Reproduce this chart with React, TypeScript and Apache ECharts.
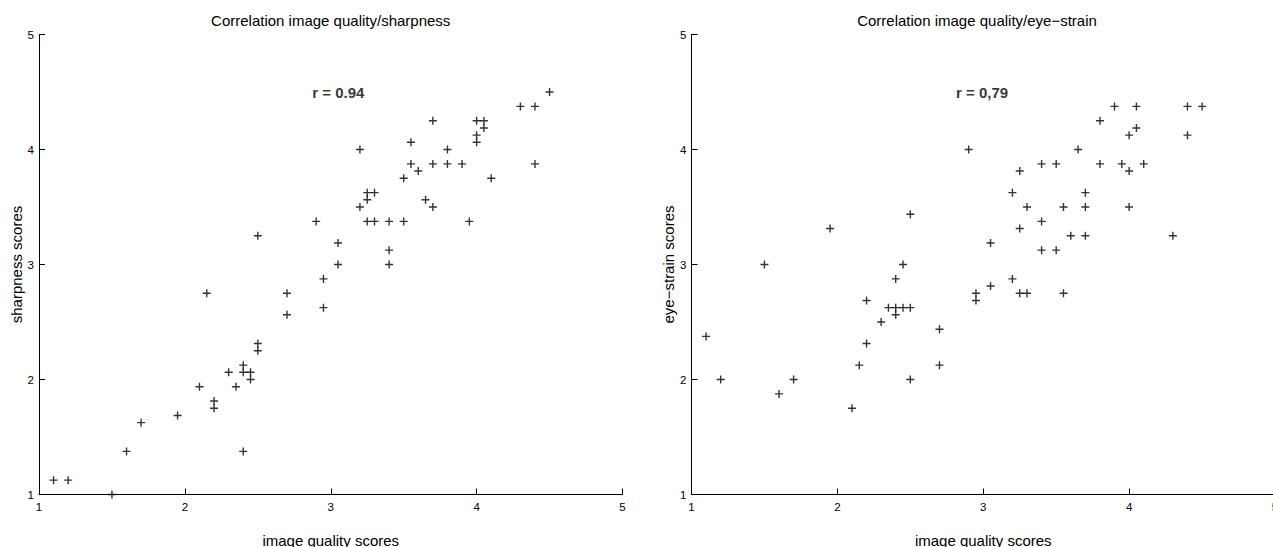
import React, { useEffect, useRef } from "react";
import * as echarts from "echarts";

// ---- data ----
const sharpnessX = [
  1.1, 1.2, 1.5, 1.6, 1.7, 1.95, 2.1, 2.15, 2.2, 2.2, 2.3, 2.35, 2.4, 2.4, 2.4,
  2.45, 2.45, 2.5, 2.5, 2.5, 2.7, 2.7, 2.9, 2.95, 2.95, 3.05, 3.05, 3.2, 3.2,
  3.25, 3.25, 3.25, 3.3, 3.3, 3.4, 3.4, 3.4, 3.5, 3.5, 3.55, 3.55, 3.6, 3.65,
  3.7, 3.7, 3.7, 3.8, 3.8, 3.9, 3.95, 4.0, 4.0, 4.0, 4.05, 4.05, 4.1, 4.3, 4.4,
  4.4, 4.5,
];
const sharpnessY = [
  1.125, 1.125, 1.0, 1.375, 1.625, 1.6875, 1.9375, 2.75, 1.8125, 1.75, 2.0625,
  1.9375, 2.125, 2.0625, 1.375, 2.0625, 2.0, 2.3125, 2.25, 3.25, 2.75, 2.5625,
  3.375, 2.875, 2.625, 3.1875, 3.0, 4.0, 3.5, 3.625, 3.5625, 3.375, 3.625,
  3.375, 3.375, 3.125, 3.0, 3.75, 3.375, 4.0625, 3.875, 3.8125, 3.5625, 4.25,
  3.875, 3.5, 4.0, 3.875, 3.875, 3.375, 4.25, 4.125, 4.0625, 4.25, 4.1875,
  3.75, 4.375, 4.375, 3.875, 4.5,
];
const eyeStrainX = [
  1.1, 1.2, 1.5, 1.6, 1.7, 1.95, 2.1, 2.15, 2.2, 2.2, 2.3, 2.35, 2.4, 2.4, 2.4,
  2.45, 2.45, 2.5, 2.5, 2.5, 2.7, 2.7, 2.9, 2.95, 2.95, 3.05, 3.05, 3.2, 3.2,
  3.25, 3.25, 3.25, 3.3, 3.3, 3.4, 3.4, 3.4, 3.5, 3.5, 3.55, 3.55, 3.6, 3.65,
  3.7, 3.7, 3.7, 3.8, 3.8, 3.9, 3.95, 4.0, 4.0, 4.0, 4.05, 4.05, 4.1, 4.3, 4.4,
  4.4, 4.5,
];
const eyeStrainY = [
  2.375, 2.0, 3.0, 1.875, 2.0, 3.3125, 1.75, 2.125, 2.6875, 2.3125, 2.5, 2.625,
  2.625, 2.875, 2.5625, 3.0, 2.625, 2.625, 3.4375, 2.0, 2.4375, 2.125, 4.0,
  2.75, 2.6875, 3.1875, 2.8125, 3.625, 2.875, 3.8125, 3.3125, 2.75, 3.5, 2.75,
  3.875, 3.375, 3.125, 3.875, 3.125, 3.5, 2.75, 3.25, 4.0, 3.625, 3.5, 3.25,
  4.25, 3.875, 4.375, 3.875, 4.125, 3.8125, 3.5, 4.375, 4.1875, 3.875, 3.25,
  4.375, 4.125, 4.375,
];
const xTicks = [1, 2, 3, 4, 5];
const yTicks = [1, 2, 3, 4, 5];
const titles = [
  "Correlation image quality/sharpness",
  "Correlation image quality/eye\u2212strain",
];
const xNames = ["image quality scores", "image quality scores"];
const yNames = ["sharpness scores", "eye\u2212strain scores"];
const rLabels = ["r = 0.94", "r = 0,79"];
const rX = [2.87, 2.81];
const rY = [4.5, 4.5];

const FONT = '"Liberation Sans", Arial, Helvetica, sans-serif';
const PLUS = "path://M0,3.3H8V4.7H0ZM3.3,0H4.7V8H3.3Z";

function zip(xs: number[], ys: number[]) {
  return xs.map((x, i) => [x, ys[i]]);
}

export default function App() {
  const ref = useRef<HTMLDivElement>(null);
  useEffect(() => {
    if (!ref.current) return;
    const chart = echarts.init(ref.current, undefined, { renderer: "svg" });
    const gridLefts = [39, 691.5];
    const titleCenters = [330.7, 977];
    const yNameGaps = [13, 14];

    const xAxis = [0, 1].map((g) => ({
      type: "value",
      gridIndex: g,
      min: xTicks[0],
      max: xTicks[xTicks.length - 1],
      interval: 1,
      name: xNames[g],
      nameLocation: "middle",
      nameGap: 38,
      nameTextStyle: { fontFamily: FONT, fontSize: 15, color: "#000" },
      axisLine: { show: true, onZero: false, lineStyle: { color: "#000", width: 1 } },
      axisTick: { show: true, inside: true, length: 6, lineStyle: { color: "#000" } },
      axisLabel: { fontFamily: FONT, fontSize: 11.5, color: "#000", margin: 6 },
      splitLine: { show: false },
    }));
    const yAxis = [0, 1].map((g) => ({
      type: "value",
      gridIndex: g,
      min: yTicks[0],
      max: yTicks[yTicks.length - 1],
      interval: 1,
      name: yNames[g],
      nameLocation: "middle",
      nameGap: yNameGaps[g],
      nameTextStyle: { fontFamily: FONT, fontSize: 15, color: "#000" },
      axisLine: { show: true, onZero: false, lineStyle: { color: "#000", width: 1 } },
      axisTick: { show: true, inside: true, length: 6, lineStyle: { color: "#000" } },
      axisLabel: { fontFamily: FONT, fontSize: 11.5, color: "#000", margin: 5 },
      splitLine: { show: false },
    }));

    const scatterData = [zip(sharpnessX, sharpnessY), zip(eyeStrainX, eyeStrainY)];

    const series: any[] = [];
    [0, 1].forEach((g) => {
      series.push({
        type: "scatter",
        xAxisIndex: g,
        yAxisIndex: g,
        data: scatterData[g],
        symbol: PLUS,
        symbolSize: 8,
        itemStyle: { color: "#000" },
        silent: true,
        clip: false,
      });
      series.push({
        type: "scatter",
        xAxisIndex: g,
        yAxisIndex: g,
        data: [[rX[g], rY[g]]],
        symbol: "rect",
        symbolSize: 1,
        itemStyle: { color: "rgba(0,0,0,0)" },
        silent: true,
        label: {
          show: true,
          position: "right",
          distance: 0,
          formatter: rLabels[g],
          fontFamily: FONT,
          fontSize: 15,
          fontWeight: "bold",
          color: "#000",
        },
      });
    });

    chart.setOption({
      animation: false,
      backgroundColor: "#fff",
      title: [0, 1].map((g) => ({
        text: titles[g],
        left: titleCenters[g],
        top: 13,
        textAlign: "center",
        padding: 0,
        textStyle: { fontFamily: FONT, fontSize: 15, fontWeight: "normal", color: "#000" },
      })),
      grid: [0, 1].map((g) => ({
        left: gridLefts[g],
        top: 34.5,
        width: 583.5,
        height: 460,
        containLabel: false,
        outerBoundsMode: "none",
      })),
      xAxis,
      yAxis,
      series,
    });
    return () => chart.dispose();
  }, []);
  return (
    <div
      ref={ref}
      style={{ position: "absolute", left: 0, top: 0, width: 1273, height: 547 }}
    />
  );
}
